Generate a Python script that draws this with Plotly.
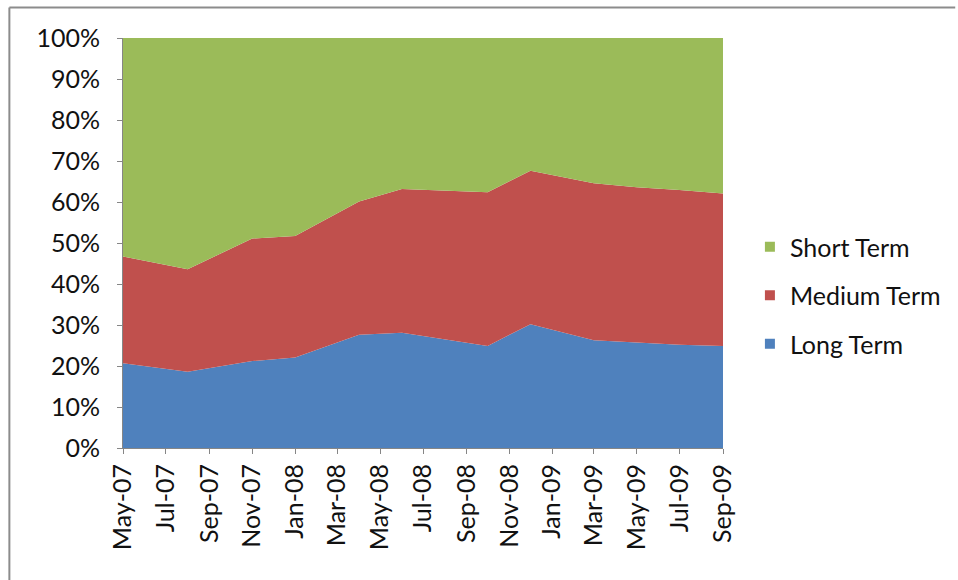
import plotly.graph_objects as go

dates = ["2007-05-01", "2007-08-01", "2007-11-01", "2008-01-01", "2008-04-01", "2008-06-01",
         "2008-10-01", "2008-12-01", "2009-03-01", "2009-05-01", "2009-07-01", "2009-09-01"]
long_term = [20.7, 18.6, 21.2, 22.1, 27.6, 28.1, 24.9, 30.2, 26.3, 25.7, 25.2, 24.9]
medium_term = [26.0, 25.0, 29.9, 29.6, 32.5, 35.1, 37.5, 37.4, 38.3, 37.9, 37.7, 37.2]
short_term = [53.3, 56.4, 48.9, 48.3, 39.9, 36.8, 37.6, 32.4, 35.4, 36.4, 37.1, 37.9]

tick_vals = ["2007-05-01", "2007-07-01", "2007-09-01", "2007-11-01", "2008-01-01", "2008-03-01",
             "2008-05-01", "2008-07-01", "2008-09-01", "2008-11-01", "2009-01-01", "2009-03-01",
             "2009-05-01", "2009-07-01", "2009-09-01"]
tick_text = ["May-07", "Jul-07", "Sep-07", "Nov-07", "Jan-08", "Mar-08", "May-08", "Jul-08",
             "Sep-08", "Nov-08", "Jan-09", "Mar-09", "May-09", "Jul-09", "Sep-09"]
y_ticks = [0, 10, 20, 30, 40, 50, 60, 70, 80, 90, 100]
y_text = [f"{v}%" for v in y_ticks]

W, H = 958, 580
L, R, T, B = 123, 725, 38, 448

fig = go.Figure()
series = [("Long Term", long_term, "#4F81BD"),
          ("Medium Term", medium_term, "#C0504D"),
          ("Short Term", short_term, "#9BBB59")]
for name, vals, col in series:
    fig.add_trace(go.Scatter(x=dates, y=vals, name=name, mode="lines", stackgroup="one",
                             line=dict(width=0, color=col), fillcolor=col, showlegend=False))
# legend entries as small squares (top to bottom: Short, Medium, Long)
for name, vals, col in reversed(series):
    fig.add_trace(go.Scatter(x=[None], y=[None], name=name, mode="markers", legendgroup=name,
                             marker=dict(symbol="square", size=10, color=col), showlegend=True))

font = "Lato, 'Open Sans', sans-serif"
fs = 25
fig.update_layout(
    width=W, height=H,
    margin=dict(l=L, r=W - R, t=T, b=H - B),
    paper_bgcolor="white", plot_bgcolor="white",
    font=dict(family=font, size=fs, color="#111111"),
    showlegend=True,
    legend=dict(x=(752 - L) / (R - L), y=(B - 224) / (B - T), xanchor="left", yanchor="top",
                traceorder="grouped", font=dict(size=fs), tracegroupgap=13,
                itemwidth=30, bgcolor="rgba(0,0,0,0)"),
    xaxis=dict(type="date", range=["2007-05-01", "2009-09-01"], tickvals=tick_vals,
               ticktext=tick_text, tickangle=-90, showgrid=False, zeroline=False,
               showline=True, linecolor="#868686", linewidth=1, ticks="outside",
               ticklen=5, tickcolor="#868686", tickfont=dict(size=fs)),
    yaxis=dict(range=[0, 100], tickvals=y_ticks, ticktext=y_text, showgrid=False,
               zeroline=False, showline=True, linecolor="#868686", linewidth=1,
               ticks="outside", ticklen=5, tickcolor="#868686", tickfont=dict(size=fs),
               ticklabelstandoff=12),
    shapes=[
        dict(type="line", xref="paper", yref="paper",
             x0=(9 - L) / (R - L), x1=(W - L) / (R - L),
             y0=(B - 7.5) / (B - T), y1=(B - 7.5) / (B - T),
             line=dict(color="#8c8c8c", width=2)),
        dict(type="line", xref="paper", yref="paper",
             x0=(9 - L) / (R - L), x1=(9 - L) / (R - L),
             y0=(B - 7.5) / (B - T), y1=(B - H) / (B - T),
             line=dict(color="#8c8c8c", width=2)),
    ],
)
fig.write_html("out.html", config={"displayModeBar": False},
               post_script="document.body.style.margin='0';")
